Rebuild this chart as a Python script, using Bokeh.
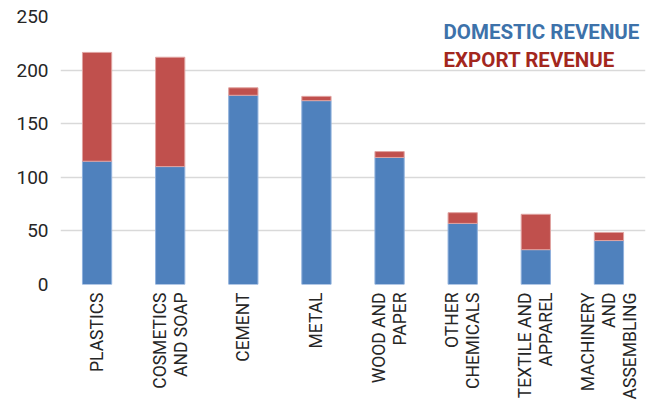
import math
from bokeh.plotting import figure
from bokeh.models import Range1d, FixedTicker, Label
from bokeh.embed import file_html
from bokeh.resources import INLINE

# ---- data ----
categories = ["PLASTICS", "COSMETICS\nAND SOAP", "CEMENT", "METAL", "WOOD AND\nPAPER",
              "OTHER\nCHEMICALS", "TEXTILE AND\nAPPAREL", "MACHINERY\nAND\nASSEMBLING"]
domestic = [115, 110, 176.5, 171.5, 118.5, 57, 32.5, 41]
export = [101.5, 102, 7, 4, 5.5, 10, 33, 7.5]
y_ticks = [0, 50, 100, 150, 200, 250]
series_names = ["DOMESTIC REVENUE", "EXPORT REVENUE"]

BLUE = "#4f81bd"
RED = "#c0504d"
FONT = "Roboto"

p = figure(x_range=categories, y_range=Range1d(0, 250),
           width=658, height=403,
           min_border_left=60, min_border_top=16, min_border_right=13, min_border_bottom=119,
           output_backend="svg", toolbar_location=None, outline_line_color=None)

src = dict(cat=categories, domestic=domestic, export=export)
p.vbar_stack(["domestic", "export"], x="cat", width=0.4, source=src,
             color=[BLUE, RED], line_color=["#8fb0dc", "#e0a3a1"], line_width=1)

p.xgrid.grid_line_color = None
p.ygrid.grid_line_color = "#d9d9d9"
p.ygrid.grid_line_width = 1.5
p.yaxis.ticker = FixedTicker(ticks=y_ticks)

for ax in (p.xaxis, p.yaxis):
    ax.axis_line_color = None
    ax.major_tick_line_color = None
    ax.minor_tick_line_color = None
    ax.major_tick_out = 0
    ax.major_tick_in = 0
    ax.major_label_text_font = FONT
    ax.major_label_text_color = "#262626"

p.yaxis.major_label_text_font_size = "19px"
p.yaxis.major_label_standoff = 12
p.xaxis.major_label_text_font_size = "17.5px"
p.xaxis.major_label_orientation = math.pi / 2
p.xaxis.major_label_standoff = 8
p.xaxis.major_label_text_line_height = 1.05

p.add_layout(Label(x=5.238, y=235.5, text=series_names[0], text_font=FONT,
                   text_font_style="bold", text_font_size="20.5px", text_color="#3d72aa",
                   text_baseline="middle"))
p.add_layout(Label(x=5.238, y=209, text=series_names[1], text_font=FONT,
                   text_font_style="bold", text_font_size="20.5px", text_color="#a3271d",
                   text_baseline="middle"))

html = file_html(p, INLINE)
open("out.html", "w").write(html)
